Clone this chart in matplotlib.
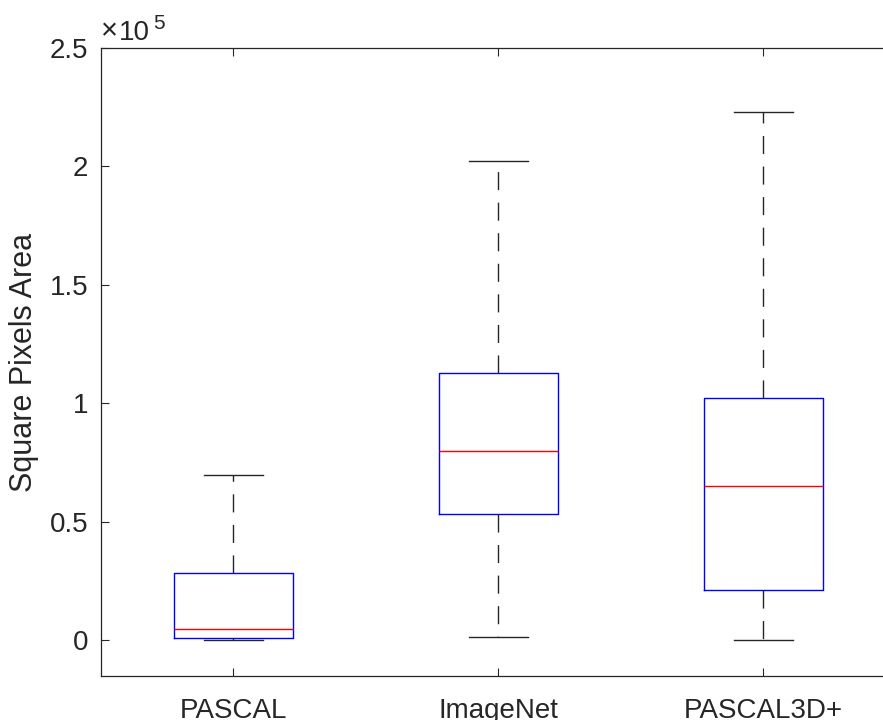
import matplotlib
matplotlib.use("Agg")
import matplotlib.pyplot as plt
from matplotlib.ticker import FuncFormatter

plt.rcParams['font.family'] = ['Liberation Sans', 'DejaVu Sans']

# dataset names and box statistics (square pixels)
datasets = ["PASCAL", "ImageNet", "PASCAL3D+"]
whisker_low = [0, 1500, 0]
q1 = [930, 53200, 21200]
median = [4700, 79800, 65000]
q3 = [28400, 112800, 102100]
whisker_high = [69700, 202500, 222800]

GRAY = "#262626"

fig = plt.figure(figsize=(8.83, 7.2), dpi=100)
ax = fig.add_axes([101 / 883, 44 / 720, 795 / 883, 628 / 720])

stats = []
for i, name in enumerate(datasets):
    stats.append(dict(label=name, whislo=whisker_low[i], q1=q1[i], med=median[i],
                      q3=q3[i], whishi=whisker_high[i], fliers=[]))

ax.bxp(stats, positions=[1, 2, 3], widths=0.45, showfliers=False,
       boxprops=dict(color="#0000ff", linewidth=1.0),
       medianprops=dict(color="#ff0000", linewidth=1.0),
       whiskerprops=dict(color=GRAY, linewidth=1.0, linestyle=(0, (13, 9))),
       capprops=dict(color=GRAY, linewidth=1.0),
       capwidths=0.225)

ax.set_xlim(0.5, 3.5)
ax.set_ylim(-0.15e5, 2.5e5)
ax.set_yticks([0, 0.5e5, 1e5, 1.5e5, 2e5, 2.5e5])
ax.yaxis.set_major_formatter(FuncFormatter(lambda v, p: "%g" % (v / 1e5)))
ax.set_xticks([1, 2, 3])
ax.set_xticklabels(datasets)

ax.tick_params(direction="in", length=5.8, width=0.8, colors=GRAY,
               labelsize=20, top=True, right=True, pad=9)
ax.tick_params(axis="x", pad=16)
for s in ax.spines.values():
    s.set_color(GRAY)
    s.set_linewidth(0.9)

ax.set_ylabel("Square Pixels Area", fontsize=22, color=GRAY, labelpad=8)

# exponent label like MATLAB's
ax.annotate("\u00d7", xy=(0.0, 1.0), xycoords="axes fraction", xytext=(0, 6),
            textcoords="offset points", fontsize=21, color=GRAY,
            ha="left", va="baseline")
ax.annotate("10", xy=(0.0, 1.0), xycoords="axes fraction", xytext=(13, 6),
            textcoords="offset points", fontsize=20, color=GRAY,
            ha="left", va="baseline")
ax.annotate("5", xy=(0.0, 1.0), xycoords="axes fraction", xytext=(37.5, 14),
            textcoords="offset points", fontsize=15, color=GRAY,
            ha="left", va="baseline")

fig.savefig("out.png", dpi=100)
